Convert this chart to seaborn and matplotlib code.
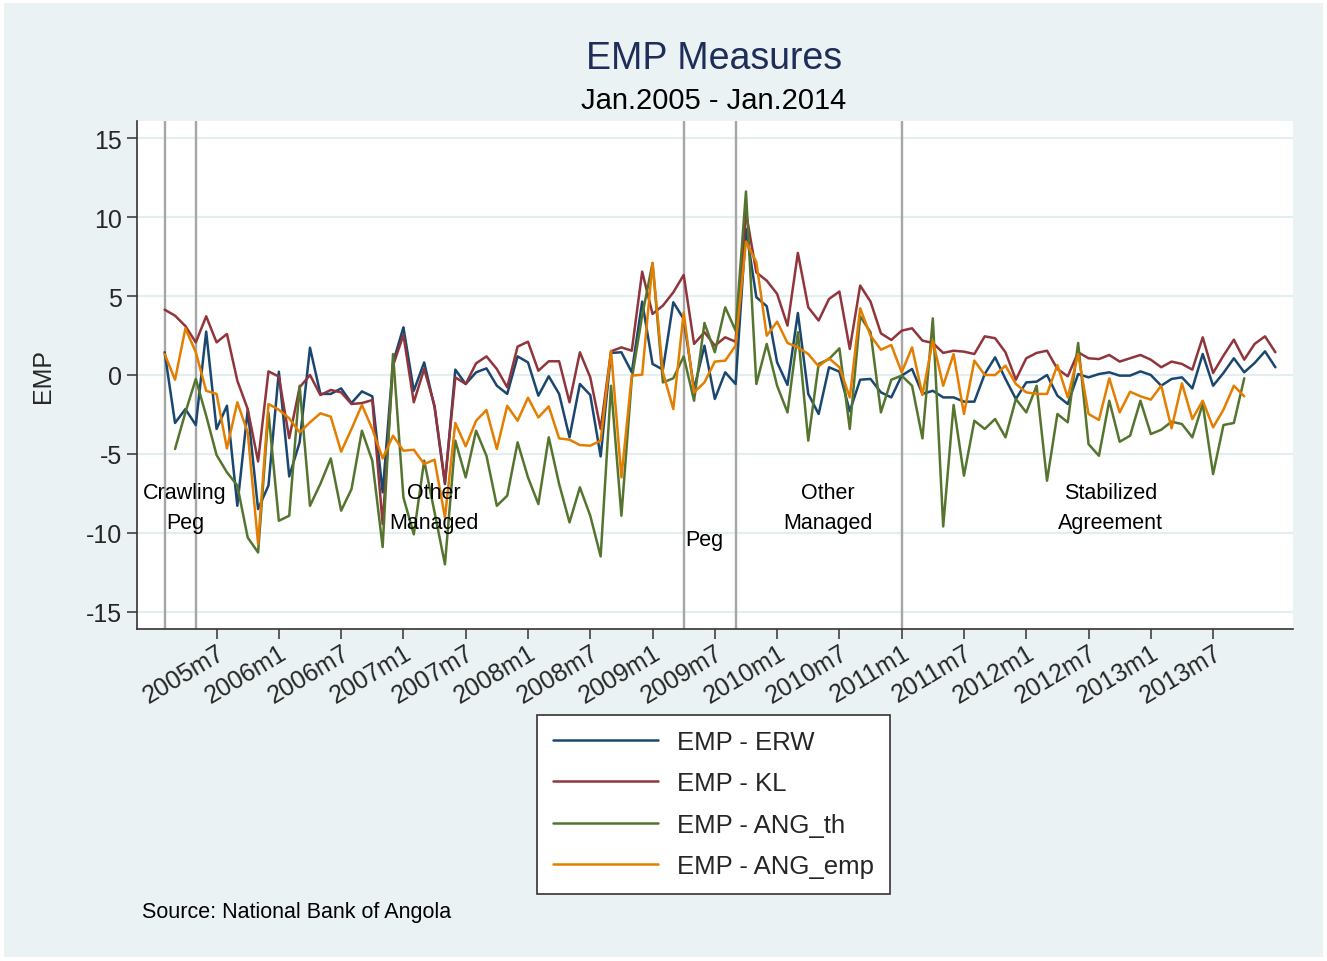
import numpy as np
import pandas as pd
import matplotlib
matplotlib.use("Agg")
import matplotlib.pyplot as plt
from matplotlib.patches import Rectangle
import seaborn as sns

nan = np.nan

# ── Data: monthly EMP measures, index 0 = 2005m2 ... 107 = 2014m1 ─────────────
erw = [1.44, -3.04, -2.16, -3.17, 2.75, -3.42, -1.95, -8.29, -2.2, -8.5,
       -7.0, 0.21, -6.43, -4.27, 1.73, -1.2, -1.2, -0.85, -1.78, -1.04,
       -1.35, -7.44, 0.8, 3.02, -1.0, 0.8, -2.05, -6.91, 0.34, -0.57,
       0.17, 0.42, -0.68, -1.2, 1.18, 0.8, -1.31, -0.08, -1.2, -3.95,
       -0.57, -1.27, -5.16, 1.4, 1.44, 0.17, 4.65, 0.7, 0.34, 4.61,
       3.55, -0.89, 1.86, -1.52, 0.17, -0.57, 9.26, 4.93, 4.36, 0.8,
       -0.63, 3.93, -1.2, -2.47, 0.49, 0.21, -2.3, -0.3, -0.25, -1.1,
       -1.42, -0.04, 0.38, -1.2, -1.0, -1.42, -1.42, -1.69, -1.69, 0.06,
       1.12, -0.25, -1.52, -0.47, -0.42, 0.0, -1.31, -1.84, 0.06, -0.15,
       0.06, 0.17, -0.04, -0.04, 0.23, 0.0, -0.68, -0.25, -0.15, -0.85,
       1.33, -0.68, 0.13, 1.06, 0.17, 0.76, 1.5, 0.49]

kl = [4.14, 3.76, 3.1, 2.07, 3.72, 2.07, 2.6, -0.36, -2.16, -5.48,
      0.23, -0.1, -4.0, -0.78, 0.0, -1.27, -0.95, -1.1, -1.84, -1.78,
      -1.59, -9.45, 0.6, 2.54, -1.73, 0.38, -1.95, -6.8, -0.15, -0.57,
      0.74, 1.18, 0.38, -0.78, 1.8, 2.11, 0.27, 0.87, 0.87, -1.73,
      1.44, -0.15, -3.42, 1.5, 1.75, 1.54, 6.55, 3.87, 4.4, 5.24,
      6.34, 1.97, 2.71, 1.86, 2.39, 2.11, 10.3, 6.5, 5.98, 5.14,
      3.13, 7.74, 4.29, 3.45, 4.82, 5.29, 1.65, 5.67, 4.65, 2.64,
      2.22, 2.81, 2.96, 2.18, 2.03, 1.4, 1.54, 1.48, 1.33, 2.45,
      2.33, 1.44, -0.3, 1.06, 1.4, 1.54, 0.38, -0.08, 1.44, 1.06,
      1.01, 1.27, 0.85, 1.06, 1.27, 0.97, 0.49, 0.85, 0.7, 0.34,
      2.39, 0.13, 1.23, 2.24, 0.97, 1.97, 2.45, 1.44]

ang_th = [nan, -4.69, -2.37, -0.25, -2.58, -5.07, -6.17, -7.0, -10.3, -11.25,
          -2.37, -9.24, -8.92, -0.68, -8.29, -6.9, -5.29, -8.6, -7.23, -3.53,
          -5.43, -10.9, 1.33, -7.76, -10.1, -5.43, -8.7, -12.0, -4.16, -6.49,
          -3.53, -5.12, -8.29, -7.65, -4.27, -6.49, -8.18, -3.95, -6.91, -9.34,
          -7.12, -8.92, -11.5, -0.68, -8.92, -0.25, 3.76, 7.1, -0.47, -0.21,
          1.18, -1.63, 3.3, 1.44, 4.29, 2.81, 11.63, -0.57, 1.97, -0.68,
          -2.37, 2.71, -4.16, 0.7, 1.01, 1.69, -3.42, 3.72, 2.71, -2.37,
          -0.3, -0.04, -0.68, -4.02, 3.59, -9.6, -1.9, -6.38, -2.9, -3.42,
          -2.79, -3.95, -1.52, -2.37, -0.68, -6.7, -2.47, -3.0, 2.03, -4.38,
          -5.12, -1.63, -4.23, -3.85, -1.63, -3.74, -3.47, -2.96, -3.11, -3.95,
          -1.84, -6.28, -3.17, -3.04, -0.21, nan, nan, nan]

ang_emp = [1.33, -0.3, 2.96, 1.44, -1.0, -1.2, -4.65, -1.73, -3.64, -10.7,
           -1.84, -2.2, -2.75, -3.64, -3.0, -2.43, -2.64, -4.86, -3.42, -1.9,
           -3.42, -5.29, -3.85, -4.8, -4.74, -5.64, -5.37, -9.03, -3.04, -4.52,
           -2.9, -2.22, -4.69, -1.95, -2.9, -1.44, -2.69, -1.99, -4.02, -4.1,
           -4.44, -4.48, -4.16, 1.54, -6.49, -0.04, 0.02, 7.1, 0.17, -2.16,
           3.97, -1.1, -0.47, 0.85, 0.91, 1.86, 8.46, 7.15, 2.49, 3.38,
           2.03, 1.75, 1.33, 0.55, 1.06, 0.49, -1.42, 4.23, 2.49, 1.6,
           1.9, 0.17, 1.75, -1.27, 2.18, -0.68, 1.33, -2.47, 0.91, 0.0,
           0.0, 0.59, -0.57, -1.1, -1.2, -1.2, 0.63, -1.42, 1.33, -2.47,
           -2.85, -0.21, -2.37, -1.06, -1.35, -1.56, -0.68, -3.38, -0.53, -2.79,
           -1.63, -3.32, -2.2, -0.68, -1.35, nan, nan, nan]

series_names = ["EMP - ERW", "EMP - KL", "EMP - ANG_th", "EMP - ANG_emp"]
series_colors = ["#1a476f", "#90353b", "#55752f", "#e37e00"]

# x ticks every 6 months starting at 2005m7 (index 5)
tick_months = list(range(5, 102, 6))
tick_labels = ["2005m7", "2006m1", "2006m7", "2007m1", "2007m7", "2008m1",
               "2008m7", "2009m1", "2009m7", "2010m1", "2010m7", "2011m1",
               "2011m7", "2012m1", "2012m7", "2013m1", "2013m7"]
y_ticks = [-15, -10, -5, 0, 5, 10, 15]

# exchange-rate regime changes (month index) and regime names
regime_breaks = [0, 3, 50, 55, 71]
regime_names = ["Crawling\nPeg", "Other\nManaged", "Peg", "Other\nManaged",
                "Stabilized\nAgreement"]

# ── Build long frame ──────────────────────────────────────────────────────────
df = pd.DataFrame({"month": np.arange(len(erw)),
                   series_names[0]: erw, series_names[1]: kl,
                   series_names[2]: ang_th, series_names[3]: ang_emp})
long = df.melt(id_vars="month", var_name="series", value_name="EMP").dropna()

BG = "#eaf2f3"
sns.set_style("white")
plt.rcParams["font.family"] = ["Liberation Sans", "DejaVu Sans"]

fig = plt.figure(figsize=(13.27, 9.62), dpi=100)
fig.patch.set_facecolor("white")
fig.patches.append(Rectangle((0.003, 0.004), 0.994, 0.992, transform=fig.transFigure,
                             facecolor=BG, edgecolor="none", zorder=-10))

ax = fig.add_axes([0.1032, 0.3451, 0.8712, 0.5281])
ax.set_facecolor("white")

for m in regime_breaks:
    ax.axvline(m, color="#a6a6a6", lw=1.7, zorder=1)

sns.lineplot(data=long, x="month", y="EMP", hue="series", hue_order=series_names,
             palette=dict(zip(series_names, series_colors)), linewidth=1.8,
             estimator=None, ax=ax, zorder=3)

ax.set_xlim(-2.67, 108.7)
ax.set_ylim(-16.1, 16.1)
ax.set_yticks(y_ticks)
ax.set_yticklabels([str(v) for v in y_ticks])
ax.set_xticks(tick_months)
ax.set_xticklabels(tick_labels, rotation=31, ha="right", va="top",
                   rotation_mode="anchor", fontsize=19.5)
ax.yaxis.grid(True, color="#e4eef0", lw=1.6, zorder=0)
ax.xaxis.grid(False)
ax.tick_params(axis="both", direction="out", length=7, width=1.1, color="#333333",
               labelsize=18, pad=4, left=True, bottom=True)
ax.tick_params(axis="x", pad=1)
for s in ["top", "right"]:
    ax.spines[s].set_visible(False)
for s in ["left", "bottom"]:
    ax.spines[s].set_color("#333333")
    ax.spines[s].set_linewidth(1.2)

ax.set_xlabel("")
ax.set_ylabel("EMP", fontsize=18)
ax.yaxis.set_label_coords(-0.071, 0.5)

# regime labels
label_pos = [(1.96, -8.4), (25.9, -8.4), (52.0, -10.4), (63.9, -8.4), (91.1, -8.4)]
for (xm, ym), txt in zip(label_pos, regime_names):
    ax.text(xm, ym, txt, ha="center", va="center", fontsize=15.5,
            linespacing=1.55, color="black", zorder=4)

# titles
fig.text(0.538, 1 - 59 / 962, "EMP Measures", ha="center", va="center",
         fontsize=27, color="#1e2d5a")
fig.text(0.538, 1 - 101 / 962, "Jan.2005 - Jan.2014", ha="center", va="center",
         fontsize=21, color="black")

# legend
handles, labels = ax.get_legend_handles_labels()
ax.get_legend().remove()
leg = fig.legend(handles, labels, loc="center", bbox_to_anchor=(0.5377, 0.163),
                 fontsize=18.5, handlelength=4.1, handletextpad=0.75,
                 labelspacing=0.68, borderpad=0.6, borderaxespad=0,
                 fancybox=False, framealpha=1, edgecolor="#333333",
                 facecolor="white")
leg.get_frame().set_linewidth(1.2)
for line in leg.get_lines():
    line.set_linewidth(1.8)

fig.text(142 / 1327, 1 - 913 / 962, "Source: National Bank of Angola",
         ha="left", va="center", fontsize=15.5, color="black")

fig.savefig("out.png", dpi=100, facecolor=fig.get_facecolor())
